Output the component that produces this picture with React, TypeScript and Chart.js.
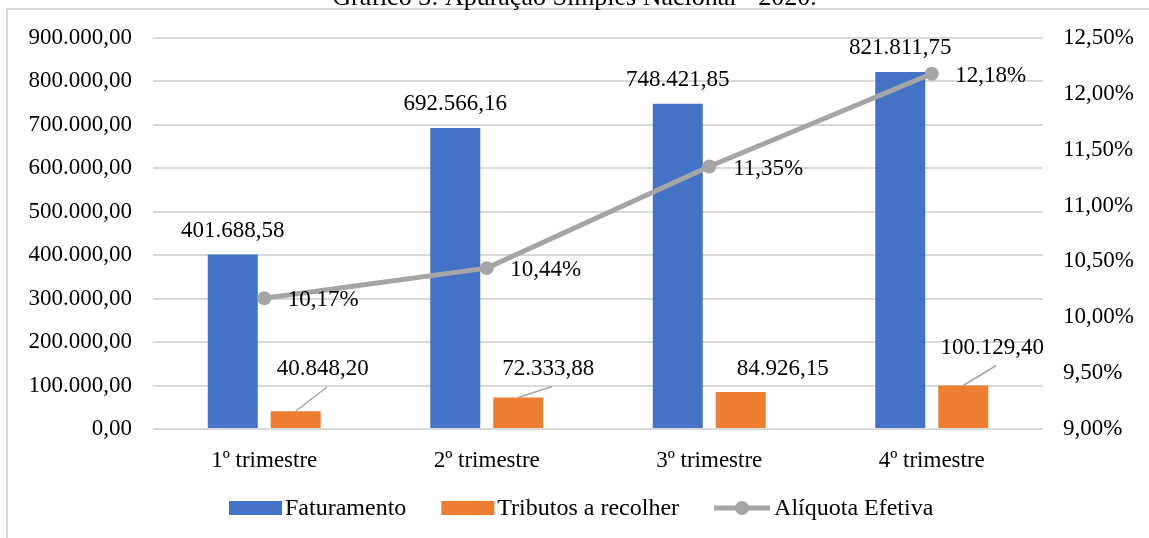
import { useEffect, useRef } from 'react';
import { Chart, registerables } from 'chart.js';

Chart.register(...registerables);

// ---- data ----
const categories = ['1º trimestre', '2º trimestre', '3º trimestre', '4º trimestre'];
const faturamento = [401688.58, 692566.16, 748421.85, 821811.75];
const tributos = [40848.2, 72333.88, 84926.15, 100129.4];
const aliquota = [10.17, 10.44, 11.35, 12.18];
const seriesNames = ['Faturamento', 'Tributos a recolher', 'Alíquota Efetiva'];
const chartTitle = 'Gráfico 3: Apuração Simples Nacional - 2020.';

// ---- look ----
const W = 1149;
const H = 538;
const FONT = '"Liberation Serif", "Times New Roman", serif';
const FONT_SIZE = 23;
const LEGEND_FONT_SIZE = 24;
const BLUE = '#4472c4';
const ORANGE = '#ed7d31';
const GRAY = '#a5a5a5';
const GRID = '#d9d9d9';
const TEXT = '#000000';

// placement of the "Tributos" labels relative to the top of their bar
const tribOffsets = [
  [27, -42],
  [30, -29],
  [42, -23],
  [29, -38],
];
const tribLeader = [true, true, false, true];

function fmtBR(v: number, d = 2): string {
  const [i, f] = Math.abs(v).toFixed(d).split('.');
  const int = i.replace(/\B(?=(\d{3})+(?!\d))/g, '.');
  return (v < 0 ? '-' : '') + int + (d > 0 ? ',' + f : '');
}

const decorPlugin = {
  id: 'decor',
  beforeDraw(chart: any) {
    const ctx = chart.ctx as CanvasRenderingContext2D;
    ctx.save();
    ctx.fillStyle = '#ffffff';
    ctx.fillRect(0, 0, W, H);
    // frame (left and top edges)
    ctx.strokeStyle = GRID;
    ctx.lineWidth = 2;
    ctx.beginPath();
    ctx.moveTo(7, H);
    ctx.lineTo(7, 9);
    ctx.lineTo(W, 9);
    ctx.stroke();
    // title
    ctx.fillStyle = TEXT;
    ctx.font = `26px ${FONT}`;
    ctx.textAlign = 'center';
    ctx.textBaseline = 'alphabetic';
    ctx.fillText(chartTitle, W / 2, 5);
    ctx.restore();
  },
  afterDatasetsDraw(chart: any) {
    const ctx = chart.ctx as CanvasRenderingContext2D;
    ctx.save();
    ctx.font = `${FONT_SIZE}px ${FONT}`;
    ctx.fillStyle = TEXT;
    ctx.textAlign = 'center';
    ctx.textBaseline = 'middle';

    // Faturamento: above each bar
    const m0 = chart.getDatasetMeta(0);
    m0.data.forEach((el: any, i: number) => {
      ctx.fillText(fmtBR(faturamento[i]), el.x, el.y - 24);
    });

    // Tributos: offset labels with leader lines
    const m1 = chart.getDatasetMeta(1);
    m1.data.forEach((el: any, i: number) => {
      const lx = el.x + tribOffsets[i][0];
      const ly = el.y + tribOffsets[i][1];
      if (tribLeader[i]) {
        ctx.save();
        ctx.strokeStyle = GRAY;
        ctx.lineWidth = 1.5;
        ctx.beginPath();
        ctx.moveTo(el.x, el.y);
        ctx.lineTo(lx + 4, ly + 18);
        ctx.stroke();
        ctx.restore();
      }
      ctx.fillText(fmtBR(tributos[i]), lx, ly);
    });

    // Alíquota: to the right of each point
    const m2 = chart.getDatasetMeta(2);
    m2.data.forEach((el: any, i: number) => {
      ctx.fillText(fmtBR(aliquota[i]) + '%', el.x + 59, el.y + 2);
    });
    ctx.restore();
  },
  afterDraw(chart: any) {
    // legend row
    const ctx = chart.ctx as CanvasRenderingContext2D;
    ctx.save();
    ctx.font = `${LEGEND_FONT_SIZE}px ${FONT}`;
    ctx.textAlign = 'left';
    ctx.textBaseline = 'middle';
    const cy = 508;
    let x = 229;
    const kinds = [
      { kind: 'box', color: BLUE },
      { kind: 'box', color: ORANGE },
      { kind: 'line', color: GRAY },
    ];
    kinds.forEach((k, idx) => {
      if (k.kind === 'box') {
        ctx.fillStyle = k.color;
        ctx.fillRect(x, cy - 7, 53, 14);
        x += 56;
      } else {
        ctx.strokeStyle = k.color;
        ctx.lineWidth = 5;
        ctx.beginPath();
        ctx.moveTo(x, cy);
        ctx.lineTo(x + 56, cy);
        ctx.stroke();
        ctx.fillStyle = k.color;
        ctx.beginPath();
        ctx.arc(x + 28, cy, 7, 0, Math.PI * 2);
        ctx.fill();
        x += 60;
      }
      const label = seriesNames[idx];
      ctx.fillStyle = TEXT;
      ctx.fillText(label, x, cy + 1);
      x += ctx.measureText(label).width + 35;
    });
    ctx.restore();
  },
};

export default function App() {
  const canvasRef = useRef<HTMLCanvasElement | null>(null);

  useEffect(() => {
    const canvas = canvasRef.current;
    if (!canvas) return;
    const tickFont = { family: FONT, size: FONT_SIZE };
    const chart = new Chart(canvas, {
      type: 'bar',
      data: {
        labels: categories,
        datasets: [
          {
            type: 'bar',
            label: seriesNames[0],
            data: faturamento,
            backgroundColor: BLUE,
            yAxisID: 'y',
            order: 2,
            categoryPercentage: 0.566,
            barPercentage: 0.794,
          },
          {
            type: 'bar',
            label: seriesNames[1],
            data: tributos,
            backgroundColor: ORANGE,
            yAxisID: 'y',
            order: 2,
            categoryPercentage: 0.566,
            barPercentage: 0.794,
          },
          {
            type: 'line',
            label: seriesNames[2],
            data: aliquota,
            borderColor: GRAY,
            backgroundColor: GRAY,
            borderWidth: 5,
            pointRadius: 7,
            pointHoverRadius: 7,
            pointBorderWidth: 0,
            pointBackgroundColor: GRAY,
            tension: 0,
            yAxisID: 'y1',
            order: 1,
          },
        ] as any,
      },
      options: {
        animation: false,
        responsive: false,
        devicePixelRatio: 1,
        events: [],
        layout: { padding: { top: 38, left: 0, right: 0, bottom: 0 } },
        plugins: {
          legend: { display: false },
          tooltip: { enabled: false },
          title: { display: false },
        },
        scales: {
          x: {
            grid: { display: false, drawTicks: false },
            border: { display: false },
            ticks: { font: tickFont, color: TEXT, padding: 18 },
            afterFit(s: any) {
              s.height = 109;
            },
          },
          y: {
            position: 'left',
            min: 0,
            max: 900000,
            ticks: {
              stepSize: 100000,
              font: tickFont,
              color: TEXT,
              padding: 21,
              callback: (v: any) => fmtBR(Number(v)),
            },
            grid: { color: GRID, lineWidth: 2, drawTicks: false },
            border: { display: false },
            afterFit(s: any) {
              s.width = 153;
            },
          },
          y1: {
            position: 'right',
            min: 9,
            max: 12.5,
            ticks: {
              stepSize: 0.5,
              font: tickFont,
              color: TEXT,
              padding: 20,
              callback: (v: any) => fmtBR(Number(v)) + '%',
            },
            grid: { display: false, drawTicks: false },
            border: { display: false },
            afterFit(s: any) {
              s.width = 106;
            },
          },
        },
      } as any,
      plugins: [decorPlugin],
    });
    return () => chart.destroy();
  }, []);

  return (
    <div style={{ position: 'fixed', left: 0, top: 0, width: W, height: H, background: '#fff' }}>
      <canvas ref={canvasRef} width={W} height={H} style={{ display: 'block' }} />
    </div>
  );
}
